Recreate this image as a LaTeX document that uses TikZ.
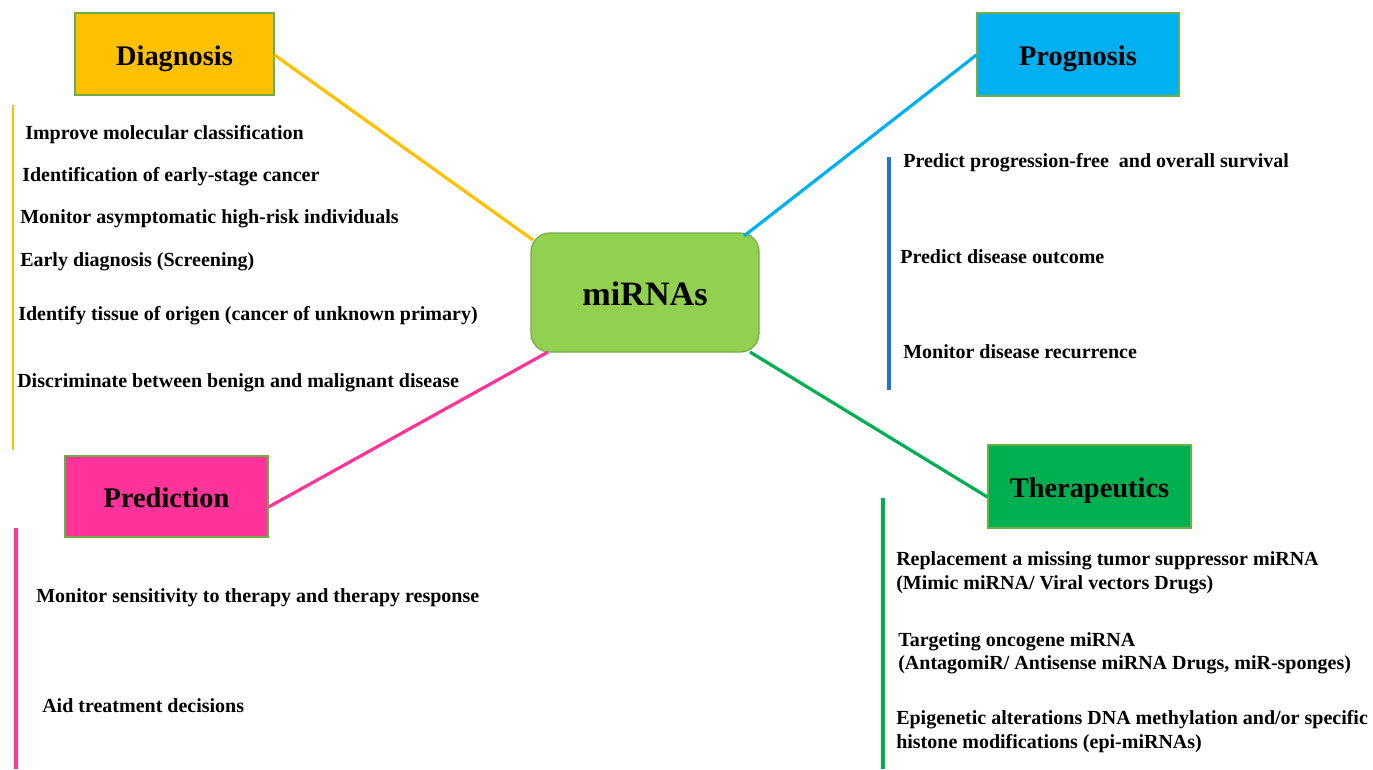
\documentclass[tikz,border=0pt]{standalone}
\usepackage{fontspec}
\setmainfont{Liberation Serif}
\definecolor{cyel}{HTML}{FFC000}
\definecolor{cblu}{HTML}{00B0F0}
\definecolor{cpnk}{HTML}{FF3399}
\definecolor{cgrn}{HTML}{00B050}
\definecolor{clim}{HTML}{92D050}
\definecolor{cbrd}{HTML}{70AD47}
\definecolor{cvblu}{HTML}{1F74D2}
\begin{document}
\begin{tikzpicture}[x=0.75pt,y=-0.75pt,
  head/.style={draw=cbrd,line width=0.9pt,minimum width=199*0.75pt,minimum height=82*0.75pt,font=\fontsize{21.3pt}{24pt}\selectfont\bfseries,inner sep=0pt,text height=17pt,text depth=0pt},
  item/.style={anchor=base west,inner sep=0pt,font=\fontsize{15pt}{18pt}\selectfont\bfseries},
  conn/.style={line width=2.4pt},
  vline/.style={line width=2.4pt}]
\useasboundingbox (0,0) rectangle (1373,769);
% heading boxes
\node[head,fill=cyel] (diag) at (174.5,54) {Diagnosis};
\node[head,fill=cblu,minimum width=202*0.75pt,minimum height=83*0.75pt] (prog) at (1078,54.5) {Prognosis};
\node[head,fill=cpnk,minimum width=203*0.75pt,minimum height=81*0.75pt] (pred) at (166.5,496.5) {Prediction};
\node[head,fill=cgrn,minimum width=203*0.75pt,minimum height=83*0.75pt] (ther) at (1089.5,486.5) {Therapeutics};
\node[draw=cbrd,line width=0.9pt,fill=clim,rounded corners=14pt,minimum width=228*0.75pt,minimum height=119*0.75pt,font=\fontsize{25.6pt}{28pt}\selectfont\bfseries,inner sep=0pt,text height=19.9pt,text depth=0pt] (mir) at (645,292.5) {miRNAs};
% connectors
\coordinate (mdiag) at (533,240);
\coordinate (mprog) at (744,236);
\coordinate (mpred) at (548,352);
\coordinate (mther) at (750,352);
\draw[conn,cyel] (diag.east |- 0,55) -- (mdiag);
\draw[conn,cblu] (prog.west |- 0,55) -- (mprog);
\draw[conn,cpnk] (pred.east |- 0,507) -- (mpred);
\draw[conn,cgrn] (ther.west |- 0,497) -- (mther);
% vertical lines
\coordinate (v1a) at (13,105); \coordinate (v1b) at (13,450);
\coordinate (v2a) at (889,157); \coordinate (v2b) at (889,390);
\coordinate (v3a) at (16,528); \coordinate (v3b) at (16,769);
\coordinate (v4a) at (883,498); \coordinate (v4b) at (883,769);
\draw[vline,cyel,line width=1.8pt] (v1a) -- (v1b);
\draw[vline,cvblu] (v2a) -- (v2b);
\draw[vline,cpnk] (v3a) -- (v3b);
\draw[vline,cgrn] (v4a) -- (v4b);
% diagnosis items
\node[item] (d1) at (25,139) {Improve molecular classification};
\node[item] (d2) at (22,181) {Identification of early-stage cancer};
\node[item] (d3) at (20,223) {Monitor asymptomatic high-risk individuals};
\node[item] (d4) at (20,266) {Early diagnosis (Screening)};
\node[item] (d5) at (18,320) {Identify tissue of origen (cancer of unknown primary)};
\node[item] (d6) at (17,387) {Discriminate between benign and malignant disease};
% prognosis items
\node[item] (p1) at (903,167) {Predict progression-free\ \ and overall survival};
\node[item] (p2) at (900,263) {Predict disease outcome};
\node[item] (p3) at (903,358) {Monitor disease recurrence};
% prediction items
\node[item] (r1) at (36,602) {Monitor sensitivity to therapy and therapy response};
\node[item] (r2) at (42,712) {Aid treatment decisions};
% therapeutics items
\node[item] (t1) at (896,565) {Replacement a missing tumor suppressor miRNA};
\node[item] (t2) at (896,589) {(Mimic miRNA/ Viral vectors Drugs)};
\node[item] (t3) at (898,646) {Targeting oncogene miRNA};
\node[item] (t4) at (898,669) {(AntagomiR/ Antisense miRNA Drugs, miR-sponges)};
\node[item] (t5) at (896,724) {Epigenetic alterations DNA methylation and/or specific};
\node[item] (t6) at (896,748) {histone modifications (epi-miRNAs)};
\end{tikzpicture}
\end{document}
